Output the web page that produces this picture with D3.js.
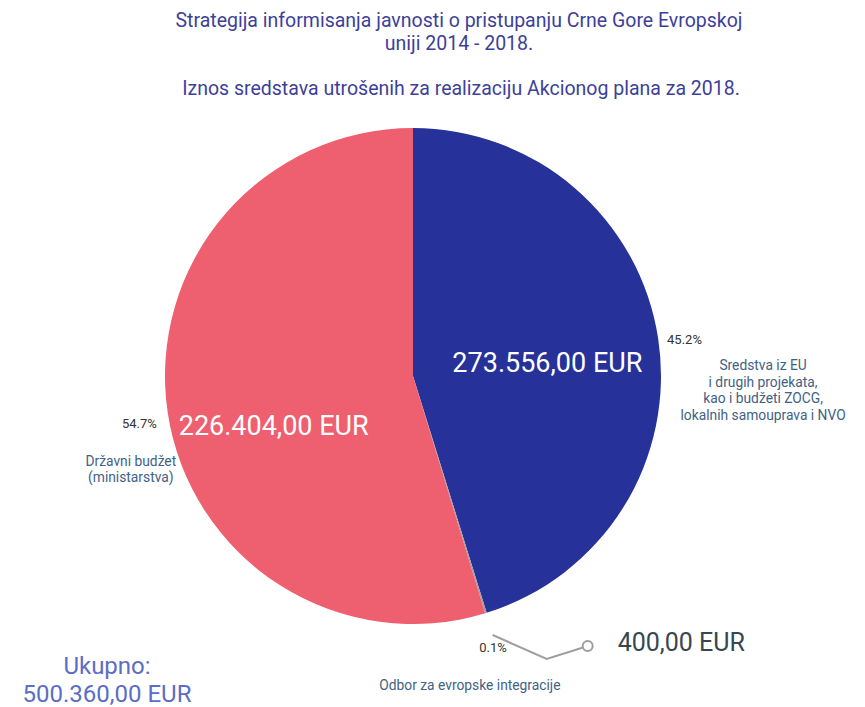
<!DOCTYPE html>
<html>
<head>
<meta charset="utf-8">
<script src="https://cdn.jsdelivr.net/npm/d3@7"></script>
<style>
  body { margin: 0; background: #fff; font-family: Roboto, 'Noto Sans', sans-serif; }
  .title { fill: #3d3f99; font-size: 19.5px; }
  .amount { fill: #fff; font-size: 27px; }
  .pct { fill: #333; font-size: 13px; }
  .cat { fill: #3f6284; font-size: 13.8px; }
</style>
</head>
<body>
<svg id="chart"></svg>
<script>
// slices clockwise from 12 o'clock
const categories = [
  ['Sredstva iz EU', 'i drugih projekata,', 'kao i budžeti ZOCG,', 'lokalnih samouprava i NVO'],
  ['Odbor za evropske integracije'],
  ['Državni budžet', '(ministarstva)']
];
const percents = [45.2, 0.1, 54.7];
const pctLabels = ['45.2%', '0.1%', '54.7%'];
const amountLabels = ['273.556,00 EUR', '400,00 EUR', '226.404,00 EUR'];
const titleLines = ['Strategija informisanja javnosti o pristupanju Crne Gore Evropskoj', 'uniji 2014 - 2018.'];
const subtitle = 'Iznos sredstava utrošenih za realizaciju Akcionog plana za 2018.';
const totalLines = ['Ukupno:', '500.360,00 EUR'];

const colors = ['#26319a', '#9e9e9e', '#ee5f6f'];

const app = (function () {
  'use strict';

  function init () {
    const W = 865;
    const H = 707;
    const cx = 413;
    const cy = 376;
    const r = 248;

    const svg = d3.select('#chart')
      .attr('width', W)
      .attr('height', H);

    // titles
    svg.selectAll('text.t1')
      .data(titleLines)
      .enter()
      .append('text')
      .attr('class', 'title')
      .attr('x', 459)
      .attr('y', (d, i) => 27 + i * 23)
      .attr('text-anchor', 'middle')
      .text(d => d);

    svg.append('text')
      .attr('class', 'title')
      .attr('x', 461)
      .attr('y', 95)
      .attr('text-anchor', 'middle')
      .text(subtitle);

    const g = svg.append('g')
      .attr('transform', 'translate(' + cx + ',' + cy + ')');

    const pie = d3.pie().sort(null).value(d => d);
    const arcs = pie(percents);

    const arc = d3.arc().innerRadius(0).outerRadius(r);

    g.selectAll('path')
      .data(arcs)
      .enter()
      .append('path')
      .attr('d', arc)
      .attr('fill', (d, i) => colors[i]);

    function pointAt (angle, radius) {
      return [Math.sin(angle) * radius, -Math.cos(angle) * radius];
    }
    function mid (d) { return (d.startAngle + d.endAngle) / 2; }

    // amounts inside the two big slices (label radius / angle nudge)
    const inside = [{ i: 0, rad: 135, da: 0.054 }, { i: 2, rad: 148, da: -0.197 }];
    inside.forEach(function (o) {
      const p = pointAt(mid(arcs[o.i]) + o.da, o.rad);
      g.append('text')
        .attr('class', 'amount')
        .attr('x', p[0])
        .attr('y', p[1])
        .attr('dy', '0.35em')
        .attr('text-anchor', 'middle')
        .text(amountLabels[o.i]);
    });

    // outside percent + category labels
    const outside = [
      { pdx: -1, pdy: 7, anchor: 'start', cdx: 95, cdy: 33 },
      { pdx: 18, pdy: 29, anchor: 'end', cdx: -19, cdy: 67 },
      { pdx: -1, pdy: 14, anchor: 'end', cdx: -27, cdy: 52 }
    ];
    arcs.forEach(function (d, i) {
      const p = pointAt(mid(d), r + 10);
      const o = outside[i];
      g.append('text')
        .attr('class', 'pct')
        .attr('x', p[0] + o.pdx)
        .attr('y', p[1] + o.pdy)
        .attr('text-anchor', o.anchor)
        .text(pctLabels[i]);
      g.append('text')
        .attr('class', 'cat')
        .attr('text-anchor', 'middle')
        .selectAll('tspan')
        .data(categories[i])
        .enter()
        .append('tspan')
        .attr('x', p[0] + o.cdx)
        .attr('y', (t, k) => p[1] + o.cdy + k * 16.5)
        .text(t => t);
    });

    // leader line for the tiny slice
    const small = arcs[1];
    const a0 = pointAt(mid(small), r + 23);
    const a1 = [a0[0] + 54, a0[1] + 24];
    const a2 = [a1[0] + 38, a1[1] - 12];
    g.append('polyline')
      .attr('points', [a0, a1, a2].map(p => p.join(',')).join(' '))
      .attr('fill', 'none')
      .attr('stroke', '#9e9e9e')
      .attr('stroke-width', 2);
    g.append('circle')
      .attr('cx', a2[0] + 3)
      .attr('cy', a2[1] - 1)
      .attr('r', 5)
      .attr('fill', '#fff')
      .attr('stroke', '#9e9e9e')
      .attr('stroke-width', 2);
    g.append('text')
      .attr('x', a2[0] + 33)
      .attr('y', a2[1] - 5)
      .attr('dy', '0.35em')
      .attr('fill', '#37474f')
      .style('font-size', '25px')
      .text(amountLabels[1]);

    // total
    svg.selectAll('text.total')
      .data(totalLines)
      .enter()
      .append('text')
      .attr('x', 107)
      .attr('y', (d, i) => 674 + i * 28)
      .attr('text-anchor', 'middle')
      .attr('fill', '#5b6dc6')
      .style('font-size', '24px')
      .text(d => d);
  }

  return { init: init };
}());

window.addEventListener('load', app.init);
</script>
</body>
</html>
